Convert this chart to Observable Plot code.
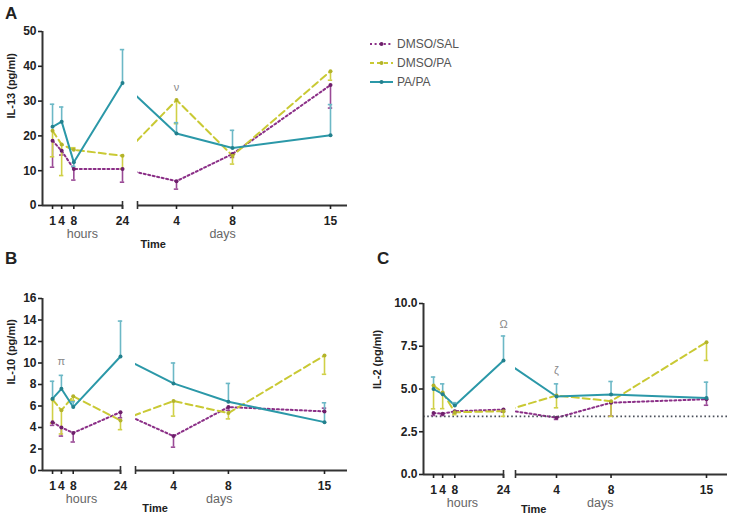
<!DOCTYPE html>
<html><head><meta charset="utf-8">
<script src="https://cdn.jsdelivr.net/npm/d3@7"></script>
<script src="https://cdn.jsdelivr.net/npm/@observablehq/plot@0.6"></script>
<style>
body{margin:0;background:#fff;font-family:"Liberation Sans",Arial,sans-serif;}
#wrap{position:relative;width:734px;height:519px;overflow:hidden;background:#fff;}
.panel{position:absolute;}
.letter{position:absolute;font-weight:bold;font-size:17px;line-height:17px;color:#222;z-index:5;}
#legend{position:absolute;left:370px;top:34px;font-size:12px;color:#555;z-index:5;}
#legend .row{height:19px;display:flex;align-items:center;}
#legend svg{margin-right:4px;}
</style></head><body>
<div id="wrap">
  <div id="pA" class="panel" style="left:0;top:0"></div>
  <div id="pB" class="panel" style="left:0;top:260px"></div>
  <div id="pC" class="panel" style="left:370px;top:260px"></div>
  <div class="letter" style="left:5px;top:5px">A</div>
  <div class="letter" style="left:5px;top:250px">B</div>
  <div class="letter" style="left:377px;top:250px">C</div>
  <div id="legend"></div>
</div>
<script>
// ---- data ----
const groups = ["DMSO/SAL", "DMSO/PA", "PA/PA"];
const hours = [1, 4, 8, 24];
const days = [4, 8, 15];

// IL-13 (pg/ml)
const il13_sal      = [18.6, 15.7, 10.5, 10.5, 7.0, 14.8, 34.6];
const il13_sal_err  = [11.0, 14.5, 7.3, 6.7, 4.7, 13.8, 28.0];
const il13_pa       = [21.5, 17.5, 16.0, 14.3, 30.3, 14.3, 38.6];
const il13_pa_err   = [14.0, 8.6, 16.6, 10.6, 23.5, 11.9, 36.0];
const il13_papa     = [22.6, 24.1, 12.4, 35.2, 20.7, 16.5, 20.2];
const il13_papa_err = [29.1, 28.3, 11.2, 44.8, 23.8, 21.6, 29.0];

// IL-10 (pg/ml)
const il10_sal      = [4.5, 4.0, 3.5, 5.43, 3.2, 5.9, 5.5];
const il10_sal_err  = [4.2, 3.2, 2.65, 4.9, 2.17, 5.6, 5.8];
const il10_pa       = [6.6, 5.6, 6.9, 4.66, 6.46, 5.34, 10.7];
const il10_pa_err   = [4.4, 3.4, 6.5, 3.8, 5.06, 4.8, 8.95];
const il10_papa     = [6.68, 7.6, 5.9, 10.6, 8.1, 6.4, 4.5];
const il10_papa_err = [8.3, 8.85, 6.4, 13.9, 10.0, 8.1, 6.3];

// IL-2 (pg/ml)
const il2_sal      = [3.6, 3.55, 3.7, 3.8, 3.32, 4.2, 4.4];
const il2_sal_err  = [3.45, 3.45, 3.6, 3.65, 3.22, 3.42, 4.05];
const il2_pa       = [5.2, 4.8, 3.64, 3.7, 4.62, 4.29, 7.74];
const il2_pa_err   = [3.84, 3.85, 3.5, 3.4, 3.9, 3.4, 6.67];
const il2_papa     = [5.0, 4.7, 4.03, 6.67, 4.56, 4.68, 4.48];
const il2_papa_err = [5.7, 5.3, 4.2, 8.1, 5.3, 5.44, 5.4];
const il2_limit = 3.4;

const il13_ticks = [0, 10, 20, 30, 40, 50];
const il10_ticks = [0, 2, 4, 6, 8, 10, 12, 14, 16];
const il2_ticks = [0, 2.5, 5, 7.5, 10];

// ---- styles ----
const styles = [
  {color: "#8b2f87", err: "#9a4a96", dash: "2,2.6", dot: "#6e1f6b"},
  {color: "#c9c934", err: "#d0d046", dash: "7,4", dot: "#b3b32a"},
  {color: "#2b98a8", err: "#6cb8c6", dash: null, dot: "#23808d"}
];

// unified x coordinate: hours stay hours, days expressed in hours
const times = [...hours, ...days.map(d => d * 24)];

const panels = [
  {el: "pA", width: 360, height: 255, mt: 31, mb: 50, ml: 42,
   xDomain: [-2.3, 24, 96, 360, 389], xRange: [42, 122, 176, 330, 347], dayStart: 44,
   yDomain: [0, 50], yTicks: il13_ticks, yFmt: d => d,
   ylabel: "IL-13 (pg/ml)", ylabelDx: -31,
   series: [[il13_sal, il13_sal_err], [il13_pa, il13_pa_err], [il13_papa, il13_papa_err]],
   notes: [{v: days[0] * 24, y: 34, t: "ν"}],
   hoursAt: 10.8, daysAt: 175, timeAt: 65, timeDy: 39},
  {el: "pB", width: 360, height: 259, mt: 38, mb: 49, ml: 42,
   xDomain: [-2.4, 24, 96, 360, 400], xRange: [42, 120, 173, 324, 347], dayStart: 44.4,
   yDomain: [0, 16], yTicks: il10_ticks, yFmt: d => d,
   ylabel: "IL-10 (pg/ml)", ylabelDx: -31,
   series: [[il10_sal, il10_sal_err], [il10_pa, il10_pa_err], [il10_papa, il10_papa_err]],
   notes: [{v: hours[1], y: 10.1, t: "π"}],
   hoursAt: 10.8, daysAt: 176, timeAt: 71, timeDy: 38},
  {el: "pC", width: 364, height: 259, mt: 43, mb: 45, ml: 53,
   xDomain: [-2.3, 24, 96, 360, 397], xRange: [53, 133, 186, 336, 357], dayStart: 40.3,
   yDomain: [0, 10], yTicks: il2_ticks, yFmt: d3.format(".1f"),
   ylabel: "IL-2 (pg/ml)", ylabelDx: -46,
   series: [[il2_sal, il2_sal_err], [il2_pa, il2_pa_err], [il2_papa, il2_papa_err]],
   notes: [{v: hours[3], y: 8.8, t: "Ω"}, {v: days[0] * 24, y: 6.1, t: "ζ"}],
   limit: il2_limit,
   hoursAt: 10.5, daysAt: 173, timeAt: 65, timeDy: 35}
];

function build(cfg) {
  const rows = [];
  cfg.series.forEach(([vals, errs], k) => {
    vals.forEach((y, i) => rows.push({g: k, v: times[i], y, e: errs[i]}));
  });
  const xMin = cfg.xDomain[0], xMax = cfg.xDomain[cfg.xDomain.length - 1];
  const yMax = cfg.yDomain[1];
  const marks = [];
  styles.forEach((s, k) => {
    marks.push(Plot.line(rows.filter(r => r.g === k), {x: "v", y: "y", stroke: s.color, strokeWidth: 2, strokeDasharray: s.dash || undefined}));
  });
  // axis break gap
  marks.push(Plot.rect([{x1: 24, x2: cfg.dayStart, y1: 0, y2: yMax}], {x1: "x1", x2: "x2", y1: "y1", y2: "y2", fill: "white", insetLeft: 1.2}));
  if (cfg.limit !== undefined) {
    marks.push(Plot.ruleY([{y: cfg.limit, x1: xMin, x2: xMax}], {y: "y", x1: "x1", x2: "x2", stroke: "#4a4f5a", strokeWidth: 1.6, strokeDasharray: "1.6,2.6"}));
  }
  styles.forEach((s, k) => {
    const d = rows.filter(r => r.g === k);
    marks.push(Plot.ruleX(d, {x: "v", y1: "y", y2: "e", stroke: s.err, strokeWidth: 1.6}));
    marks.push(Plot.ruleY(d, {y: "e", x1: "v", x2: "v", insetLeft: -2.2, insetRight: -2.2, stroke: s.err, strokeWidth: 1.6}));
  });
  styles.forEach((s, k) => {
    marks.push(Plot.dot(rows.filter(r => r.g === k), {x: "v", y: "y", r: 2, fill: s.dot, stroke: "none"}));
  });
  // axes
  marks.push(Plot.ruleX([{x: xMin}], {x: "x", y1: 0, y2: yMax, stroke: "#333", strokeWidth: 2}));
  marks.push(Plot.ruleY([{x1: xMin, x2: 24}, {x1: cfg.dayStart, x2: xMax}], {y: 0, x1: "x1", x2: "x2", stroke: "#333", strokeWidth: 2}));
  marks.push(Plot.axisY({ticks: cfg.yTicks, tickFormat: cfg.yFmt, tickSize: 4, tickPadding: 2, fontWeight: "bold", fontSize: 12, color: "#222", strokeWidth: 1.6, label: null}));
  marks.push(Plot.axisX({ticks: hours, tickFormat: d => d, tickSize: 4, tickPadding: 7, fontWeight: "bold", fontSize: 12, color: "#222", strokeWidth: 1.6, label: null}));
  marks.push(Plot.axisX({ticks: days.map(d => d * 24), tickFormat: d => d / 24, tickSize: 4, tickPadding: 7, fontWeight: "bold", fontSize: 12, color: "#222", strokeWidth: 1.6, label: null}));
  marks.push(Plot.ruleX([{x: 24}, {x: cfg.dayStart}], {x: "x", y1: 0, y2: 0, insetTop: -4, insetBottom: -4, stroke: "#333", strokeWidth: 1.6}));
  // texts
  marks.push(Plot.text([{v: cfg.hoursAt, t: "hours"}, {v: cfg.daysAt, t: "days"}], {x: "v", text: "t", frameAnchor: "bottom", lineAnchor: "middle", dy: 28, fill: "#666", fontSize: 12.5}));
  marks.push(Plot.text([{v: cfg.timeAt, t: "Time"}], {x: "v", text: "t", frameAnchor: "bottom", lineAnchor: "middle", dy: cfg.timeDy, fill: "#222", fontSize: 11, fontWeight: "bold"}));
  marks.push(Plot.text([{t: cfg.ylabel}], {text: "t", frameAnchor: "left", dx: cfg.ylabelDx, rotate: -90, fill: "#222", fontSize: 11, fontWeight: "bold"}));
  marks.push(Plot.text(cfg.notes, {x: "v", y: "y", text: "t", fill: "#888", fontSize: 11}));

  const chart = Plot.plot({
    width: cfg.width, height: cfg.height,
    marginTop: cfg.mt, marginBottom: cfg.mb, marginLeft: cfg.ml, marginRight: cfg.width - cfg.xRange[cfg.xRange.length - 1],
    style: {fontFamily: "'Liberation Sans', Arial, sans-serif", background: "transparent", overflow: "visible"},
    x: {type: "linear", domain: cfg.xDomain, range: cfg.xRange},
    y: {domain: cfg.yDomain},
    marks
  });
  document.getElementById(cfg.el).appendChild(chart);
}
panels.forEach(build);

// legend
const leg = document.getElementById("legend");
groups.forEach((g, k) => {
  const s = styles[k];
  const row = document.createElement("div");
  row.className = "row";
  row.innerHTML = `<svg width="23" height="10"><line x1="0" y1="5" x2="23" y2="5" stroke="${s.color}" stroke-width="2" ${s.dash ? `stroke-dasharray="${k === 1 ? "4,3" : s.dash}"` : ""}/><circle cx="11.5" cy="5" r="2" fill="${s.dot}"/></svg><span>${g}</span>`;
  leg.appendChild(row);
});
</script>
</body></html>
